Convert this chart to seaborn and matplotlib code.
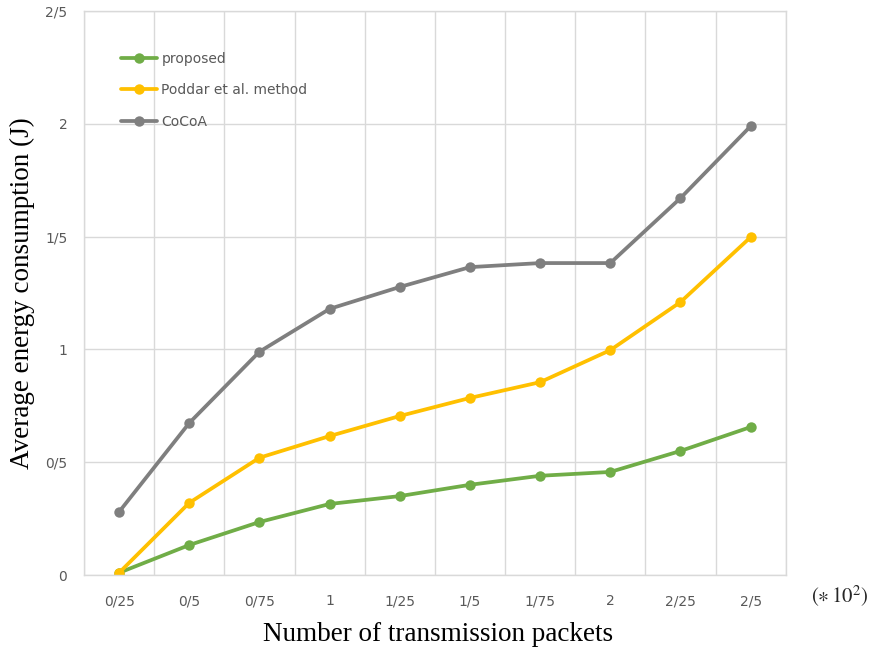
import numpy as np
import pandas as pd
import seaborn as sns
from matplotlib import pyplot as plt

# x categories (Persian-style decimal separator '/')
packets = ['0/25', '0/5', '0/75', '1', '1/25', '1/5', '1/75', '2', '2/25', '2/5']
proposed = [0.01, 0.133, 0.235, 0.315, 0.35, 0.40, 0.44, 0.457, 0.55, 0.656]
poddar = [0.01, 0.32, 0.52, 0.616, 0.705, 0.785, 0.855, 0.997, 1.21, 1.498]
cocoa = [0.28, 0.674, 0.99, 1.18, 1.277, 1.365, 1.383, 1.383, 1.671, 1.99]
methods = ['proposed', 'Poddar et al. method', 'CoCoA']
colors = ['#70AD47', '#FFC000', '#7F7F7F']
y_ticks = [0, 0.5, 1, 1.5, 2, 2.5]
y_tick_labels = ['0', '0/5', '1', '1/5', '2', '2/5']

df = pd.DataFrame({
    'packets': packets * 3,
    'energy': proposed + poddar + cocoa,
    'method': [m for m in methods for _ in packets],
})

sns.set_style('white')
plt.rcParams['mathtext.fontset'] = 'stix'
fig = plt.figure(figsize=(8.75, 6.53), dpi=100)
ax = fig.add_axes([0.096, 0.1194, 0.802, 0.8636])

sns.lineplot(
    data=df, x='packets', y='energy', hue='method', hue_order=methods,
    palette=colors, marker='o', markersize=7.5, markeredgewidth=0,
    linewidth=2.7, ax=ax,
)

grid_color = '#D9D9D9'
ax.set_xlim(-0.5, len(packets) - 0.5)
ax.set_ylim(0, 2.5)
ax.set_yticks(y_ticks)
ax.set_yticklabels(y_tick_labels)
ax.set_xticks(np.arange(len(packets)))
ax.set_xticklabels(packets)
ax.set_xticks(np.arange(len(packets) + 1) - 0.5, minor=True)
ax.grid(axis='y', which='major', color=grid_color, linewidth=1)
ax.grid(axis='x', which='minor', color=grid_color, linewidth=1)
ax.grid(axis='x', which='major', visible=False)
ax.tick_params(which='both', length=0)
ax.tick_params(axis='both', labelsize=10, labelcolor='#595959')
ax.tick_params(axis='x', pad=14)
ax.tick_params(axis='y', pad=12)
for s in ax.spines.values():
    s.set_color(grid_color)
    s.set_linewidth(1)

ax.set_xlabel('Number of transmission packets', family='Liberation Serif',
              fontsize=19.5, color='black')
ax.set_ylabel('Average energy consumption (J)', family='Liberation Serif',
              fontsize=19.5, color='black')
ax.xaxis.label.set_va('center')
ax.yaxis.label.set_va('center')
ax.xaxis.set_label_coords(0.505, -0.105)
ax.yaxis.set_label_coords(-0.088, 0.5)
fig.text(0.96, 0.086, r'$(\ast\,10^2)$', fontsize=15, family='Liberation Serif',
         ha='center', va='center')

leg = ax.legend(loc='upper left', bbox_to_anchor=(0.035, 0.95), frameon=False,
                fontsize=10, labelspacing=1.25, handlelength=2.6,
                handletextpad=0.3, labelcolor='#595959')

fig.savefig('out.png', dpi=100)
